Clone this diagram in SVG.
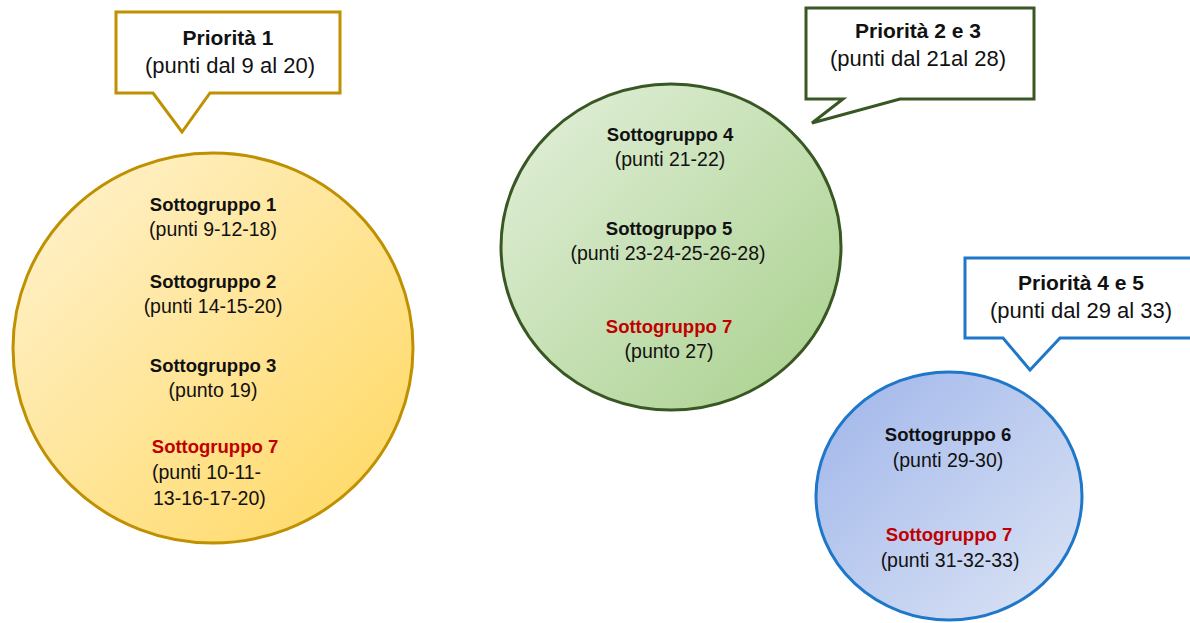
<svg xmlns="http://www.w3.org/2000/svg" width="1190" height="623" viewBox="0 0 1190 623">
<defs>
<linearGradient id="gy" x1="0" y1="0" x2="1" y2="1"><stop offset="0" stop-color="#fff3d2"/><stop offset="1" stop-color="#ffd75e"/></linearGradient>
<linearGradient id="gg" x1="0" y1="0" x2="1" y2="1"><stop offset="0" stop-color="#e4f0dc"/><stop offset="1" stop-color="#a8d08c"/></linearGradient>
<linearGradient id="gb" x1="0" y1="0" x2="1" y2="1"><stop offset="0" stop-color="#9fb5ea"/><stop offset="1" stop-color="#dde5f5"/></linearGradient>
<style>
text{font-family:"Liberation Sans",Arial,sans-serif;text-anchor:middle;fill:#111}
.b{font-weight:bold;font-size:18.5px}
.r{font-size:19.5px}
.red{fill:#c00000}
.cb{font-weight:bold;font-size:21px}
.cr{font-size:22px}
.lt{text-anchor:start}
</style>
</defs>
<g id="connectors"></g>
<g id="callout1">
<path d="M116,12 H340 V93 H210 L182,132 L153,93 H116 Z" fill="#fff" stroke="#bf9000" stroke-width="3"/>
<text x="228" y="45" class="cb">Priorità 1</text>
<text x="230" y="73" class="cr">(punti dal 9 al 20)</text>
</g>
<g id="callout2">
<path d="M806,8 H1034 V99 H900 L812,123 L843,99 H806 Z" fill="#fff" stroke="#385723" stroke-width="3"/>
<text x="918" y="38" class="cb">Priorità 2 e 3</text>
<text x="918" y="66" class="cr">(punti dal 21al 28)</text>
</g>
<g id="callout3">
<path d="M965,258 H1196 V338 H1060 L1030,370 L1003,338 H965 Z" fill="#fff" stroke="#1f77c9" stroke-width="3"/>
<text x="1081" y="290" class="cb">Priorità 4 e 5</text>
<text x="1081" y="318" class="cr">(punti dal 29 al 33)</text>
</g>
<g id="group-yellow">
<ellipse cx="213" cy="348" rx="200" ry="195" fill="url(#gy)" stroke="#bf9000" stroke-width="3"/>
<text x="213" y="211" class="b">Sottogruppo 1</text>
<text x="213" y="236" class="r">(punti 9-12-18)</text>
<text x="213" y="288" class="b">Sottogruppo 2</text>
<text x="213" y="313" class="r">(punti 14-15-20)</text>
<text x="213" y="372" class="b">Sottogruppo 3</text>
<text x="213" y="397" class="r">(punto 19)</text>
<text x="215" y="453" class="b red">Sottogruppo 7</text>
<text x="152" y="479" class="r lt">(punti 10-11-</text>
<text x="153" y="505" class="r lt">13-16-17-20)</text>
</g>
<g id="group-green">
<ellipse cx="671" cy="247" rx="170" ry="163" fill="url(#gg)" stroke="#385723" stroke-width="3"/>
<text x="670" y="141" class="b">Sottogruppo 4</text>
<text x="670" y="166" class="r">(punti 21-22)</text>
<text x="669" y="235" class="b">Sottogruppo 5</text>
<text x="668" y="260" class="r">(punti 23-24-25-26-28)</text>
<text x="669" y="333" class="b red">Sottogruppo 7</text>
<text x="669" y="358" class="r">(punto 27)</text>
</g>
<g id="group-blue">
<ellipse cx="949" cy="496" rx="133" ry="124" fill="url(#gb)" stroke="#1f77c9" stroke-width="3"/>
<text x="948" y="441" class="b">Sottogruppo 6</text>
<text x="948" y="467" class="r">(punti 29-30)</text>
<text x="949" y="541" class="b red">Sottogruppo 7</text>
<text x="950" y="567" class="r">(punti 31-32-33)</text>
</g>
</svg>
